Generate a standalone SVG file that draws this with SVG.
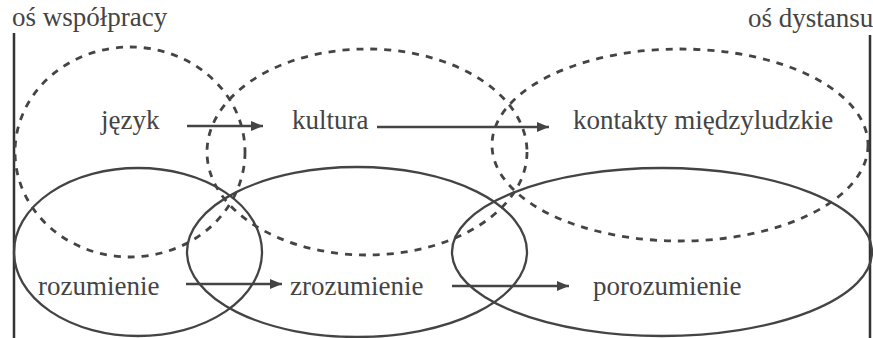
<svg xmlns="http://www.w3.org/2000/svg" width="873" height="338" viewBox="0 0 873 338">
  <defs>
    <marker id="arrow" viewBox="0 0 12 10" refX="12" refY="5" markerWidth="12" markerHeight="10" markerUnits="userSpaceOnUse" orient="auto">
      <path d="M0,0 L12,5 L0,10 Z" fill="#444444"/>
    </marker>
  </defs>
  <style>
    text { font-family: 'Liberation Serif', 'Times New Roman', serif; font-size: 27px; fill: #444444; }
    .axis { stroke: #333333; stroke-width: 2.5; fill: none; }
    .dashed { stroke: #444444; stroke-width: 2.8; fill: none; stroke-dasharray: 7 7; }
    .solid { stroke: #444444; stroke-width: 2.3; fill: none; }
    .link { stroke: #444444; stroke-width: 2.3; fill: none; marker-end: url(#arrow); }
  </style>
  <rect width="873" height="338" fill="#ffffff"/>

  <!-- axes -->
  <g id="axis-cooperation">
    <line class="axis" x1="14" y1="33" x2="14" y2="338"/>
    <text x="12" y="26">oś współpracy</text>
  </g>
  <g id="axis-distance">
    <line class="axis" x1="870" y1="35" x2="870" y2="338"/>
    <text x="748" y="27">oś dystansu</text>
  </g>

  <!-- upper (dashed) fields -->
  <g id="jezyk">
    <ellipse class="dashed" cx="130" cy="152" rx="115" ry="105"/>
    <text x="101" y="129">język</text>
  </g>
  <g id="kultura">
    <ellipse class="dashed" cx="367" cy="152" rx="160" ry="103"/>
    <text x="292" y="129">kultura</text>
  </g>
  <g id="kontakty">
    <ellipse class="dashed" cx="680" cy="145" rx="188" ry="96"/>
    <text x="573" y="129">kontakty międzyludzkie</text>
  </g>

  <!-- lower (solid) fields -->
  <g id="rozumienie">
    <ellipse class="solid" cx="138" cy="252" rx="124" ry="84"/>
    <text x="38" y="295">rozumienie</text>
  </g>
  <g id="zrozumienie">
    <ellipse class="solid" cx="357" cy="252" rx="170" ry="85"/>
    <text x="290" y="295">zrozumienie</text>
  </g>
  <g id="porozumienie">
    <ellipse class="solid" cx="662" cy="252" rx="210" ry="84"/>
    <text x="593" y="295">porozumienie</text>
  </g>

  <!-- connectors -->
  <g id="connectors">
    <line class="link" x1="187" y1="126" x2="263" y2="126"/>
    <line class="link" x1="377" y1="127" x2="549" y2="127"/>
    <line class="link" x1="186" y1="284" x2="282" y2="284"/>
    <line class="link" x1="452" y1="286" x2="569" y2="286"/>
  </g>
</svg>
